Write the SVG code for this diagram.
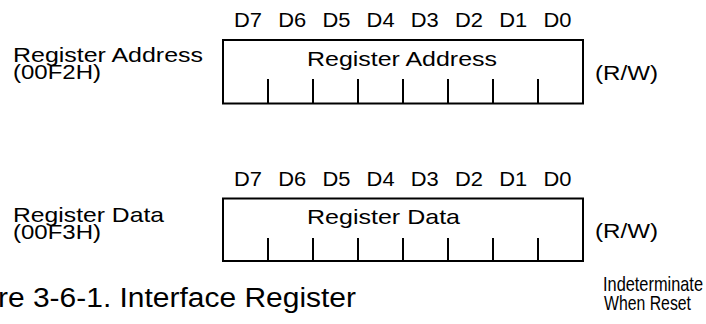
<svg xmlns="http://www.w3.org/2000/svg" width="706" height="324" viewBox="0 0 706 324">
<style>
text{font-family:"Liberation Sans",Arial,sans-serif;fill:#000}
.bit{font-size:20px;text-anchor:middle}
.lbl{font-size:21px}
.narrow{font-size:21px}
.cap{font-size:27px}
.box{fill:#fff;stroke:#000;stroke-width:2}
.tick{stroke:#000;stroke-width:2}
</style>
<rect width="706" height="324" fill="#fff"/>
<g id="reg-address">
<text class="lbl" x="13" y="62" textLength="190" lengthAdjust="spacingAndGlyphs">Register Address</text>
<text class="lbl" x="13" y="79" textLength="88" lengthAdjust="spacingAndGlyphs">(00F2H)</text>
<g class="bits">
<text class="bit" x="248" y="27" textLength="28" lengthAdjust="spacingAndGlyphs">D7</text>
<text class="bit" x="292.2" y="27" textLength="28" lengthAdjust="spacingAndGlyphs">D6</text>
<text class="bit" x="336.4" y="27" textLength="28" lengthAdjust="spacingAndGlyphs">D5</text>
<text class="bit" x="380.6" y="27" textLength="28" lengthAdjust="spacingAndGlyphs">D4</text>
<text class="bit" x="424.8" y="27" textLength="28" lengthAdjust="spacingAndGlyphs">D3</text>
<text class="bit" x="469" y="27" textLength="28" lengthAdjust="spacingAndGlyphs">D2</text>
<text class="bit" x="513.2" y="27" textLength="28" lengthAdjust="spacingAndGlyphs">D1</text>
<text class="bit" x="557.4" y="27" textLength="28" lengthAdjust="spacingAndGlyphs">D0</text>
</g>
<rect class="box" x="223" y="40" width="360" height="63.5"/>
<path class="tick" d="M268 79V103.5M313 79V103.5M358 79V103.5M403 79V103.5M448 79V103.5M493 79V103.5M538 79V103.5"/>
<text class="lbl" x="307" y="66" textLength="190" lengthAdjust="spacingAndGlyphs">Register Address</text>
<text class="lbl" x="595" y="80" textLength="63" lengthAdjust="spacingAndGlyphs">(R/W)</text>
</g>
<g id="reg-data">
<text class="lbl" x="13" y="222" textLength="151" lengthAdjust="spacingAndGlyphs">Register Data</text>
<text class="lbl" x="13" y="239" textLength="88" lengthAdjust="spacingAndGlyphs">(00F3H)</text>
<g class="bits">
<text class="bit" x="248" y="186" textLength="28" lengthAdjust="spacingAndGlyphs">D7</text>
<text class="bit" x="292.2" y="186" textLength="28" lengthAdjust="spacingAndGlyphs">D6</text>
<text class="bit" x="336.4" y="186" textLength="28" lengthAdjust="spacingAndGlyphs">D5</text>
<text class="bit" x="380.6" y="186" textLength="28" lengthAdjust="spacingAndGlyphs">D4</text>
<text class="bit" x="424.8" y="186" textLength="28" lengthAdjust="spacingAndGlyphs">D3</text>
<text class="bit" x="469" y="186" textLength="28" lengthAdjust="spacingAndGlyphs">D2</text>
<text class="bit" x="513.2" y="186" textLength="28" lengthAdjust="spacingAndGlyphs">D1</text>
<text class="bit" x="557.4" y="186" textLength="28" lengthAdjust="spacingAndGlyphs">D0</text>
</g>
<rect class="box" x="223" y="198.5" width="360" height="62.5"/>
<path class="tick" d="M268 238V261M313 238V261M358 238V261M403 238V261M448 238V261M493 238V261M538 238V261"/>
<text class="lbl" x="307" y="224" textLength="153" lengthAdjust="spacingAndGlyphs">Register Data</text>
<text class="lbl" x="595" y="238" textLength="63" lengthAdjust="spacingAndGlyphs">(R/W)</text>
<text class="narrow" x="603" y="291" textLength="100" lengthAdjust="spacingAndGlyphs">Indeterminate</text>
<text class="narrow" x="604" y="310" textLength="87" lengthAdjust="spacingAndGlyphs">When Reset</text>
</g>
<g id="caption">
<text class="cap" x="-2" y="307" textLength="358" lengthAdjust="spacingAndGlyphs">re 3-6-1. Interface Register</text>
</g>
</svg>
